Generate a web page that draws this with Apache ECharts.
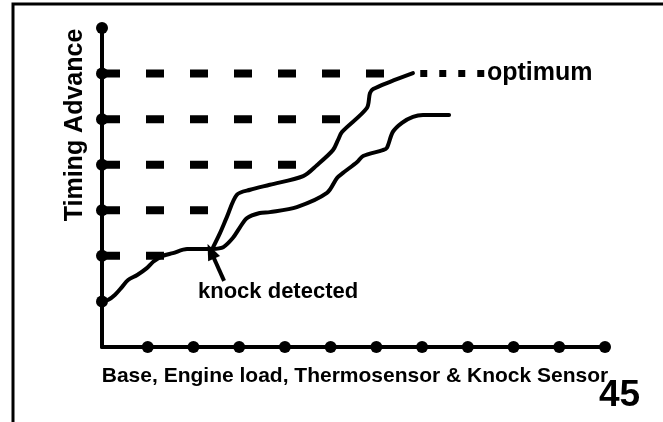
<!DOCTYPE html>
<html>
<head>
<meta charset="utf-8">
<script src="https://cdn.jsdelivr.net/npm/echarts@6/dist/echarts.min.js"></script>
<style>html,body{margin:0;padding:0;background:#fff;}#c{width:663px;height:422px;}</style>
</head>
<body>
<div id="c"></div>
<script>
// ---- data ----
const xTickDots = [1,2,3,4,5,6,7,8,9,10,11];
const yTickDots = [1,2,3,4,5,6,7];
const dashRowLevels = [2, 3, 4, 5, 6];
const dashRowEnds   = [1.4, 2.4, 4.35, 5.3, 6.3];
const optimumDotted = [[6.96, 6], [8.36, 6]];
const commonCurve = [[0,1.0],[0.13,1.03],[0.28,1.14],[0.44,1.32],[0.57,1.47],[0.77,1.58],[0.98,1.73],[1.12,1.87],[1.33,2.0],[1.55,2.06],[1.86,2.15],[2.14,2.15],[2.41,2.15]];
const optimumCurve = [[2.41,2.15],[2.58,2.5],[2.73,2.85],[2.95,3.34],[3.24,3.45],[3.67,3.56],[4.4,3.75],[4.7,3.99],[5.05,4.32],[5.16,4.54],[5.25,4.72],[5.79,5.24],[5.86,5.57],[5.93,5.66],[6.3,5.82],[6.8,6.01]];
const knockCurve = [[2.41,2.15],[2.65,2.19],[2.86,2.39],[3.02,2.63],[3.17,2.83],[3.45,2.94],[3.67,2.96],[4.26,3.07],[4.92,3.38],[5.14,3.71],[5.27,3.82],[5.58,4.06],[5.71,4.19],[6.14,4.32],[6.23,4.37],[6.36,4.72],[6.56,4.92],[6.8,5.05],[7.02,5.09],[7.59,5.09]];
const knockArrow = [[2.67, 1.45], [2.38, 2.1]];
const xAxisTitle = 'Base, Engine load, Thermosensor & Knock Sensor';
const yAxisTitle = 'Timing Advance';
const optimumText = 'optimum';
const knockText = 'knock detected';
const pageNumber = '45';

const FONT = '"Liberation Sans", Arial, Helvetica, sans-serif';
const chart = echarts.init(document.getElementById('c'), null, {renderer: 'canvas'});

const series = [];
dashRowLevels.forEach((lv, i) => {
  series.push({
    type: 'line', data: [[0, lv], [dashRowEnds[i], lv]], symbol: 'none', silent: true,
    lineStyle: {color: '#000', width: 8, type: [18, 26], cap: 'butt', opacity: 1}, z: 2
  });
});
series.push({
  type: 'line', data: optimumDotted, symbol: 'none', silent: true,
  lineStyle: {color: '#000', width: 7, type: [7, 12], cap: 'butt', opacity: 1}, z: 2
});
[commonCurve, optimumCurve, knockCurve].forEach(c => {
  series.push({
    type: 'line', data: c, symbol: 'none', smooth: 0.3, silent: true,
    lineStyle: {color: '#000', width: 4, cap: 'round', join: 'round', opacity: 1}, z: 3
  });
});
series.push({
  type: 'scatter', silent: true, symbol: 'circle', symbolSize: 12,
  itemStyle: {color: '#000', opacity: 1}, clip: false, z: 5,
  data: xTickDots.map(v => [v, 0]).concat(yTickDots.map(v => [0, v]))
});
series.push({
  type: 'line', data: [], symbol: 'none',
  markLine: {
    silent: true, symbol: ['none', 'triangle'], symbolSize: [13, 16],
    label: {show: false},
    lineStyle: {color: '#000', width: 4, type: 'solid', opacity: 1},
    itemStyle: {color: '#000', opacity: 1},
    data: [[{coord: knockArrow[0]}, {coord: knockArrow[1]}]]
  }
});

chart.setOption({
  animation: false,
  backgroundColor: '#fff',
  grid: {left: 102, right: 58, top: 28, bottom: 75, containLabel: false, outerBoundsMode: 'none'},
  xAxis: {type: 'value', min: 0, max: 11, interval: 1,
    axisLine: {show: true, onZero: false, lineStyle: {color: '#000', width: 4}},
    axisTick: {show: false}, axisLabel: {show: false}, splitLine: {show: false}},
  yAxis: {type: 'value', min: 0, max: 7, interval: 1,
    axisLine: {show: true, onZero: false, lineStyle: {color: '#000', width: 4}},
    axisTick: {show: false}, axisLabel: {show: false}, splitLine: {show: false}},
  series: series,
  graphic: [
    {type: 'polyline', shape: {points: [[13, 422], [13, 4], [663, 4]]}, style: {stroke: '#000', lineWidth: 3, fill: null}, silent: true},
    {type: 'text', x: 355, y: 376, style: {text: xAxisTitle, font: 'bold 21px ' + FONT, fill: '#000', align: 'center', verticalAlign: 'middle'}},
    {type: 'text', x: 75, y: 125, rotation: Math.PI / 2, style: {text: yAxisTitle, font: 'bold 25px ' + FONT, fill: '#000', align: 'center', verticalAlign: 'middle'}},
    {type: 'text', x: 487, y: 73, style: {text: optimumText, font: 'bold 25px ' + FONT, fill: '#000', align: 'left', verticalAlign: 'middle'}},
    {type: 'text', x: 198, y: 292, style: {text: knockText, font: 'bold 22px ' + FONT, fill: '#000', align: 'left', verticalAlign: 'middle'}},
    {type: 'text', x: 599, y: 396, style: {text: pageNumber, font: 'bold 37px ' + FONT, fill: '#000', align: 'left', verticalAlign: 'middle'}}
  ]
});
</script>
</body>
</html>
